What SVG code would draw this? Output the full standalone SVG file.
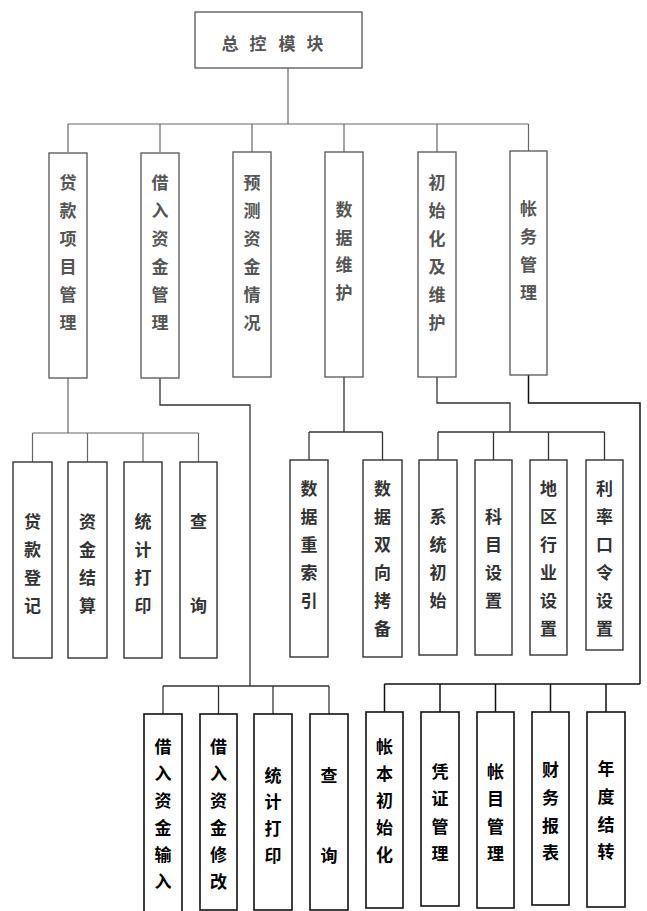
<svg xmlns="http://www.w3.org/2000/svg" width="647" height="911" viewBox="0 0 647 911">
<style>
.box{fill:#fff;stroke:#555;stroke-width:1.3}
.box2{fill:#fff;stroke:#333;stroke-width:1.4}
.box3{fill:#fff;stroke:#111;stroke-width:1.6}
.t{font-family:"Noto Sans CJK SC","Noto Sans CJK TC",sans-serif;font-size:17px;font-weight:bold;text-anchor:middle;dominant-baseline:central}
.t1{fill:#555}
.t2{fill:#333}
.t3{fill:#000}
.c1{fill:none;stroke:#666;stroke-width:1.2}
.c2{fill:none;stroke:#333;stroke-width:1.3}
.c3{fill:none;stroke:#111;stroke-width:1.5}
</style>
<rect width="647" height="911" fill="#fff"/>
<g id="connectors">
<path class="c1" d="M288 68V124M68 124H528.5M68 124V152M160 124V152M252 124V152M344 124V152M437 124V152M528.5 124V151"/>
<path class="c1" d="M68 378V433M32.5 433H198.5M32.5 433V462M87.5 433V462M143 433V462M198.5 433V462"/>
<path class="c2" d="M160 378V405H250V686M163 686H329M163 686V714M218.5 686V714M273 686V714M329 686V714"/>
<path class="c2" d="M344 377V432M309 432H382.5M309 432V460M382.5 432V460"/>
<path class="c2" d="M437 377V403H510V432M438 432H604.5M438 432V460M493.5 432V460M548.5 432V460M604.5 432V460"/>
<path class="c3" d="M528.5 375V403H640V684M384.5 684H640M384.5 684V712M440 684V712M495.5 684V712M550.5 684V712M606 684V712"/>
</g>
<g id="n0"><rect class="box" x="195" y="12" width="167" height="56"/><text class="t t1" y="42"><tspan x="230">总</tspan><tspan x="258">控</tspan><tspan x="287">模</tspan><tspan x="315">块</tspan></text></g>
<g id="n1"><rect class="box" x="49" y="153" width="38" height="225"/><text class="t t1" x="68"><tspan x="68" y="181">贷</tspan><tspan x="68" y="209">款</tspan><tspan x="68" y="237">项</tspan><tspan x="68" y="265">目</tspan><tspan x="68" y="293">管</tspan><tspan x="68" y="321">理</tspan></text></g>
<g id="n2"><rect class="box" x="141" y="153" width="38" height="225"/><text class="t t1"><tspan x="160" y="181">借</tspan><tspan x="160" y="209">入</tspan><tspan x="160" y="237">资</tspan><tspan x="160" y="265">金</tspan><tspan x="160" y="293">管</tspan><tspan x="160" y="321">理</tspan></text></g>
<g id="n3"><rect class="box" x="233" y="152" width="38" height="225"/><text class="t t1"><tspan x="252" y="181">预</tspan><tspan x="252" y="209">测</tspan><tspan x="252" y="237">资</tspan><tspan x="252" y="265">金</tspan><tspan x="252" y="293">情</tspan><tspan x="252" y="321">况</tspan></text></g>
<g id="n4"><rect class="box" x="325" y="152" width="38" height="225"/><text class="t t1"><tspan x="344" y="208">数</tspan><tspan x="344" y="236">据</tspan><tspan x="344" y="263">维</tspan><tspan x="344" y="291">护</tspan></text></g>
<g id="n5"><rect class="box" x="418" y="152" width="38" height="225"/><text class="t t1"><tspan x="437" y="181">初</tspan><tspan x="437" y="209">始</tspan><tspan x="437" y="237">化</tspan><tspan x="437" y="265">及</tspan><tspan x="437" y="293">维</tspan><tspan x="437" y="321">护</tspan></text></g>
<g id="n6"><rect class="box" x="510" y="151" width="37" height="224"/><text class="t t1"><tspan x="528.5" y="207">帐</tspan><tspan x="528.5" y="235">务</tspan><tspan x="528.5" y="263">管</tspan><tspan x="528.5" y="291">理</tspan></text></g>
<g id="n7"><rect class="box2" x="13" y="462" width="39" height="196"/><text class="t t2"><tspan x="32.5" y="520">贷</tspan><tspan x="32.5" y="548">款</tspan><tspan x="32.5" y="576">登</tspan><tspan x="32.5" y="604">记</tspan></text></g>
<g id="n8"><rect class="box2" x="68" y="462" width="39" height="196"/><text class="t t2"><tspan x="87.5" y="520">资</tspan><tspan x="87.5" y="548">金</tspan><tspan x="87.5" y="576">结</tspan><tspan x="87.5" y="604">算</tspan></text></g>
<g id="n9"><rect class="box2" x="124" y="462" width="38" height="196"/><text class="t t2"><tspan x="143" y="520">统</tspan><tspan x="143" y="548">计</tspan><tspan x="143" y="576">打</tspan><tspan x="143" y="604">印</tspan></text></g>
<g id="n10"><rect class="box2" x="180" y="462" width="37" height="196"/><text class="t t2"><tspan x="198.5" y="520">查</tspan><tspan x="198.5" y="604">询</tspan></text></g>
<g id="n11"><rect class="box2" x="290" y="460" width="38" height="197"/><text class="t t2"><tspan x="309" y="487">数</tspan><tspan x="309" y="515">据</tspan><tspan x="309" y="543">重</tspan><tspan x="309" y="571">索</tspan><tspan x="309" y="599">引</tspan></text></g>
<g id="n12"><rect class="box2" x="363" y="460" width="39" height="197"/><text class="t t2"><tspan x="382.5" y="487">数</tspan><tspan x="382.5" y="515">据</tspan><tspan x="382.5" y="543">双</tspan><tspan x="382.5" y="571">向</tspan><tspan x="382.5" y="599">拷</tspan><tspan x="382.5" y="627">备</tspan></text></g>
<g id="n13"><rect class="box2" x="419" y="460" width="38" height="195"/><text class="t t2"><tspan x="438" y="515">系</tspan><tspan x="438" y="543">统</tspan><tspan x="438" y="571">初</tspan><tspan x="438" y="599">始</tspan></text></g>
<g id="n14"><rect class="box2" x="475" y="460" width="37" height="195"/><text class="t t2"><tspan x="493.5" y="515">科</tspan><tspan x="493.5" y="543">目</tspan><tspan x="493.5" y="571">设</tspan><tspan x="493.5" y="599">置</tspan></text></g>
<g id="n15"><rect class="box2" x="530" y="460" width="37" height="195"/><text class="t t2"><tspan x="548.5" y="487">地</tspan><tspan x="548.5" y="515">区</tspan><tspan x="548.5" y="543">行</tspan><tspan x="548.5" y="571">业</tspan><tspan x="548.5" y="599">设</tspan><tspan x="548.5" y="627">置</tspan></text></g>
<g id="n16"><rect class="box2" x="586" y="460" width="37" height="190"/><text class="t t2"><tspan x="604.5" y="487">利</tspan><tspan x="604.5" y="515">率</tspan><tspan x="604.5" y="543">口</tspan><tspan x="604.5" y="571">令</tspan><tspan x="604.5" y="599">设</tspan><tspan x="604.5" y="627">置</tspan></text></g>
<g id="n17"><rect class="box3" x="144" y="714" width="38" height="198"/><text class="t t3"><tspan x="163" y="745">借</tspan><tspan x="163" y="772">入</tspan><tspan x="163" y="799">资</tspan><tspan x="163" y="826">金</tspan><tspan x="163" y="853">输</tspan><tspan x="163" y="880">入</tspan></text></g>
<g id="n18"><rect class="box3" x="200" y="714" width="37" height="196"/><text class="t t3"><tspan x="218.5" y="745">借</tspan><tspan x="218.5" y="772">入</tspan><tspan x="218.5" y="799">资</tspan><tspan x="218.5" y="826">金</tspan><tspan x="218.5" y="853">修</tspan><tspan x="218.5" y="880">改</tspan></text></g>
<g id="n19"><rect class="box3" x="254" y="714" width="38" height="196"/><text class="t t3"><tspan x="273" y="774">统</tspan><tspan x="273" y="800">计</tspan><tspan x="273" y="827">打</tspan><tspan x="273" y="854">印</tspan></text></g>
<g id="n20"><rect class="box3" x="310" y="714" width="38" height="196"/><text class="t t3"><tspan x="329" y="774">查</tspan><tspan x="329" y="854">询</tspan></text></g>
<g id="n21"><rect class="box3" x="366" y="712" width="37" height="196"/><text class="t t3"><tspan x="384.5" y="745">帐</tspan><tspan x="384.5" y="772">本</tspan><tspan x="384.5" y="799">初</tspan><tspan x="384.5" y="826">始</tspan><tspan x="384.5" y="853">化</tspan></text></g>
<g id="n22"><rect class="box3" x="421" y="712" width="38" height="194"/><text class="t t3"><tspan x="440" y="770">凭</tspan><tspan x="440" y="797">证</tspan><tspan x="440" y="825">管</tspan><tspan x="440" y="852">理</tspan></text></g>
<g id="n23"><rect class="box3" x="477" y="712" width="37" height="196"/><text class="t t3"><tspan x="495.5" y="770">帐</tspan><tspan x="495.5" y="797">目</tspan><tspan x="495.5" y="825">管</tspan><tspan x="495.5" y="852">理</tspan></text></g>
<g id="n24"><rect class="box3" x="532" y="712" width="37" height="193"/><text class="t t3"><tspan x="550.5" y="768">财</tspan><tspan x="550.5" y="796">务</tspan><tspan x="550.5" y="824">报</tspan><tspan x="550.5" y="851">表</tspan></text></g>
<g id="n25"><rect class="box3" x="587" y="712" width="38" height="195"/><text class="t t3"><tspan x="606" y="767">年</tspan><tspan x="606" y="795">度</tspan><tspan x="606" y="823">结</tspan><tspan x="606" y="850">转</tspan></text></g>
</svg>
